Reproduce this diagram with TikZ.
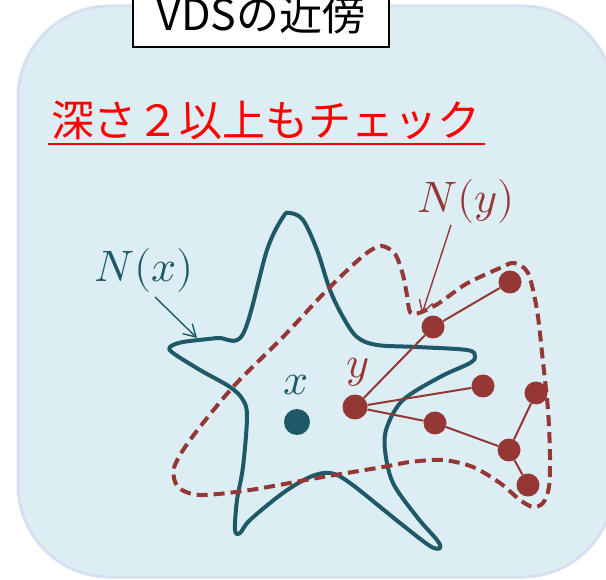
\documentclass[tikz,border=0pt]{standalone}
\usepackage{fontspec}
\usepackage{unicode-math}
\setmathfont{Latin Modern Math}
\newfontfamily\jpfont{Noto Sans CJK JP}
\usetikzlibrary{arrows.meta}
\definecolor{bgfill}{RGB}{220,237,243}
\definecolor{bgline}{RGB}{214,224,240}
\definecolor{tealc}{RGB}{31,89,104}
\definecolor{dred}{RGB}{149,55,53}
\tikzset{
  reddot/.style={circle, fill=dred, inner sep=0pt, minimum size=23pt},
  redge/.style={dred, line width=2pt},
  callout/.style={line width=1.4pt, -{Straight Barb[length=12pt,width=14pt]}},
  mathlbl/.style={inner sep=0pt, font=\fontsize{44}{48}\selectfont},
}
\begin{document}
\begin{tikzpicture}[x=1pt,y=-1pt]
\useasboundingbox (0,0) rectangle (606,580);
\clip (0,0) rectangle (606,580);
% background panel
\draw[fill=bgfill, draw=bgline, line width=3pt, rounded corners=92pt] (18,6) rectangle (614,577);
% title box
\node[draw=black, fill=white, line width=1.5pt, minimum width=256pt, minimum height=62pt, anchor=south, inner sep=0pt] (titlebox) at (261,48) {};
\node[anchor=base, inner sep=0pt] (title) at (261,31) {\jpfont\fontsize{43}{46}\selectfont VDSの近傍};
% red heading
\node[anchor=base, inner sep=0pt, text=red] (head) at (266,137) {\jpfont\fontsize{43}{46}\selectfont 深さ２以上もチェック};
\draw[red, line width=2pt] (48,144) -- (485,144);
% star N(x)
\draw[tealc, line width=4pt, line join=round] plot[smooth cycle, tension=0.55] coordinates {
 (243,334) (267,250) (283,217) (290,213) (303,220) (317,250) (330,290) (343,317) (357,337)
 (377,345) (417,347) (467,350) (475,356) (470,363) (440,377) (403,400) (387,427) (385,450)
 (393,483) (417,517) (437,540) (440,548) (430,546) (400,523) (350,483) (330,473) (310,477)
 (283,493) (250,520) (240,533) (235,530) (237,500) (243,467) (247,417) (243,400) (230,387)
 (200,370) (173,353) (170,347) (183,342) (217,338)};
% dashed N(y)
\draw[dred, line width=4pt, dash pattern=on 11pt off 6pt] plot[smooth cycle, tension=0.5] coordinates {
 (381,246) (395,254) (403,275) (407,295) (412,314) (436,305) (466,284) (500,268) (514,263)
 (528,273) (537,310) (543,362) (548,410) (550,455) (549,487) (543,503) (533,507) (520,500)
 (500,483) (473,467) (443,460) (410,462) (383,467) (317,478) (250,490) (200,495) (178,487)
 (174,468) (190,440) (233,387) (283,337) (327,290) (363,256)};
% dots
\node[circle, fill=tealc, inner sep=0pt, minimum size=26pt] (x) at (297,422) {};
\node[reddot, minimum size=25pt] (y) at (355,407) {};
\node[reddot] (a) at (433,327) {};
\node[reddot] (b) at (510,282) {};
\node[reddot] (c) at (483,386) {};
\node[reddot] (d) at (435,423) {};
\node[reddot] (e) at (536,393) {};
\node[reddot] (f) at (509,450) {};
\node[reddot] (g) at (528,485) {};
\draw[redge] (y) -- (a);
\draw[redge] (a) -- (b);
\draw[redge] (y) -- (c);
\draw[redge] (y) -- (d);
\draw[redge] (d) -- (f);
\draw[redge] (f) -- (e);
\draw[redge] (f) -- (g);
% labels
\node[mathlbl, text=tealc, anchor=base] (xl) at (296,395) {$x$};
\node[mathlbl, text=dred, anchor=base] (yl) at (358,378) {$y$};
\node[mathlbl, text=tealc, anchor=base] (Nx) at (144,282) {$N(x)$};
\node[mathlbl, text=dred, anchor=base] (Ny) at (466,213) {$N(y)$};
% callout arrows
\coordinate (nxs) at (155,297);
\coordinate (nxt) at (197,338);
\coordinate (nys) at (451,225);
\coordinate (nyt) at (422,314);
\draw[callout, tealc] (nxs) -- (nxt);
\draw[callout, dred] (nys) -- (nyt);
\end{tikzpicture}
\end{document}
